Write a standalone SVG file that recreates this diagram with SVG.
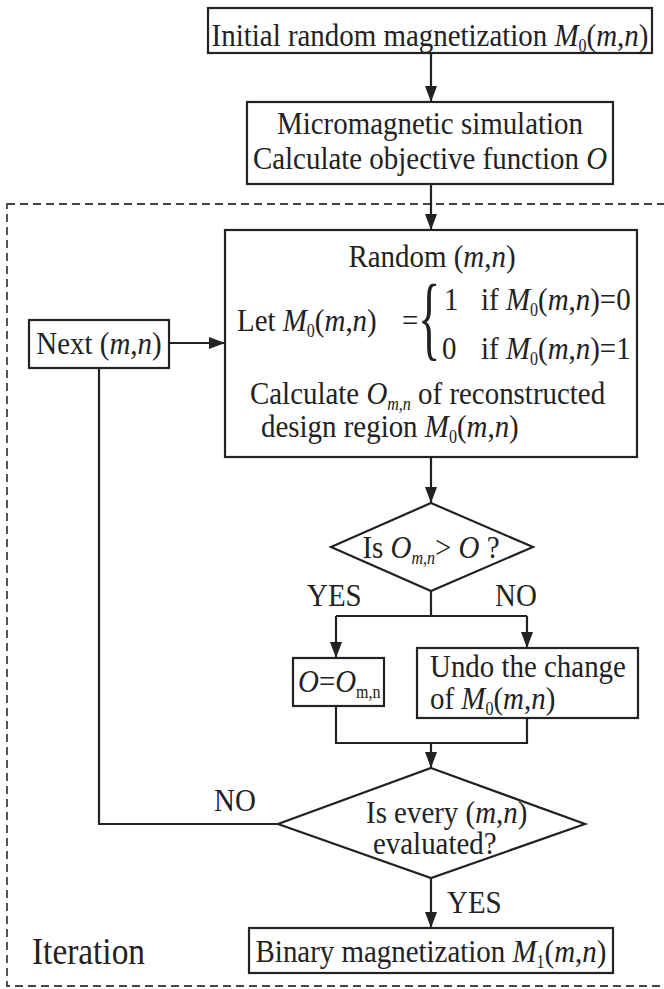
<svg xmlns="http://www.w3.org/2000/svg" width="664" height="989" viewBox="0 0 664 989">
  <style>
    .box{fill:#fff;stroke:#222;stroke-width:2.2}
    .t{font-family:"Liberation Serif","Times New Roman",serif;font-size:32.5px;fill:#222}
    .m{text-anchor:middle}
    .i{font-style:italic}
    .s{font-size:18px}
    .ln{fill:none;stroke:#222;stroke-width:2.2}
    .dash{fill:none;stroke:#444;stroke-width:1.8;stroke-dasharray:8 5}
  </style>
  <defs>
    <marker id="arrow" markerUnits="userSpaceOnUse" markerWidth="16" markerHeight="12" refX="16" refY="6" orient="auto">
      <path d="M0,0 L16,6 L0,12 z" fill="#222"/>
    </marker>
  </defs>
  <rect width="664" height="989" fill="#fff"/>

  <!-- iteration frame -->
  <g id="iteration-frame">
    <rect class="dash" x="7" y="204" width="670" height="782"/>
    <text class="t" transform="translate(32,964) scale(0.89,1)" style="font-size:37.5px">Iteration</text>
  </g>

  <!-- connectors -->
  <g id="connectors">
    <path class="ln" d="M431,53 V102" marker-end="url(#arrow)"/>
    <path class="ln" d="M431,184 V230" marker-end="url(#arrow)"/>
    <path class="ln" d="M169,343 H225" marker-end="url(#arrow)"/>
    <path class="ln" d="M431,457 V503" marker-end="url(#arrow)"/>
    <path class="ln" d="M431,591 V616 M336,616 H527"/>
    <path class="ln" d="M336,616 V658" marker-end="url(#arrow)"/>
    <path class="ln" d="M527,616 V648" marker-end="url(#arrow)"/>
    <path class="ln" d="M336,706 V743 H527 V718"/>
    <path class="ln" d="M431,743 V768" marker-end="url(#arrow)"/>
    <path class="ln" d="M278,824 H99 V368"/>
    <path class="ln" d="M431,878 V928" marker-end="url(#arrow)"/>
    <text class="t" transform="translate(307,606) scale(0.89,1)">YES</text>
    <text class="t" transform="translate(495,606) scale(0.89,1)">NO</text>
    <text class="t" transform="translate(214,811) scale(0.89,1)">NO</text>
    <text class="t" transform="translate(447,913) scale(0.89,1)">YES</text>
  </g>

  <!-- initial magnetization -->
  <g id="init">
    <rect class="box" x="208" y="8" width="444" height="45"/>
    <text class="t m" transform="translate(430,46) scale(0.89,1)">Initial random magnetization <tspan class="i">M</tspan><tspan class="s" dy="6">0</tspan><tspan dy="-6">(</tspan><tspan class="i">m</tspan>,<tspan class="i">n</tspan>)</text>
  </g>

  <!-- simulation -->
  <g id="simulate">
    <rect class="box" x="247" y="102" width="366" height="82"/>
    <text class="t m" transform="translate(430,134) scale(0.89,1)">Micromagnetic simulation</text>
    <text class="t m" transform="translate(430,169) scale(0.89,1)">Calculate objective function <tspan class="i">O</tspan></text>
  </g>

  <!-- flip a random cell -->
  <g id="flip">
    <rect class="box" x="225" y="230" width="412" height="227"/>
    <text class="t m" transform="translate(432,267) scale(0.89,1)">Random (<tspan class="i">m</tspan>,<tspan class="i">n</tspan>)</text>
    <text class="t" transform="translate(237,331) scale(0.89,1)">Let <tspan class="i">M</tspan><tspan class="s" dy="6">0</tspan><tspan dy="-6">(</tspan><tspan class="i">m</tspan>,<tspan class="i">n</tspan>)</text>
    <text class="t" transform="translate(402,331) scale(0.89,1)">=</text>
    <text class="t" transform="translate(418,349) scale(0.5,1)" style="font-size:93px">{</text>
    <text class="t" transform="translate(444,310) scale(0.89,1)">1</text>
    <text class="t" transform="translate(481,310) scale(0.89,1)">if <tspan class="i">M</tspan><tspan class="s" dy="6">0</tspan><tspan dy="-6">(</tspan><tspan class="i">m</tspan>,<tspan class="i">n</tspan>)=0</text>
    <text class="t" transform="translate(442,359) scale(0.89,1)">0</text>
    <text class="t" transform="translate(481,359) scale(0.89,1)">if <tspan class="i">M</tspan><tspan class="s" dy="6">0</tspan><tspan dy="-6">(</tspan><tspan class="i">m</tspan>,<tspan class="i">n</tspan>)=1</text>
    <text class="t" transform="translate(250,404) scale(0.89,1)">Calculate <tspan class="i">O</tspan><tspan class="s i" dy="6">m,n</tspan><tspan dy="-6"> of reconstructed</tspan></text>
    <text class="t" transform="translate(261,437) scale(0.89,1)">design region <tspan class="i">M</tspan><tspan class="s" dy="6">0</tspan><tspan dy="-6">(</tspan><tspan class="i">m</tspan>,<tspan class="i">n</tspan>)</text>
  </g>

  <!-- next cell -->
  <g id="next">
    <rect class="box" x="29" y="320" width="140" height="48"/>
    <text class="t m" transform="translate(99,354) scale(0.89,1)">Next (<tspan class="i">m</tspan>,<tspan class="i">n</tspan>)</text>
  </g>

  <!-- compare objective -->
  <g id="compare">
    <polygon class="box" points="431,503 533,547 431,591 331,547"/>
    <text class="t m" transform="translate(431,558) scale(0.89,1)">Is <tspan class="i">O</tspan><tspan class="s i" dy="6">m,n</tspan><tspan dy="-6">&gt; </tspan><tspan class="i">O</tspan> ?</text>
  </g>

  <!-- accept -->
  <g id="accept">
    <rect class="box" x="293" y="658" width="91" height="48"/>
    <text class="t" transform="translate(298,692) scale(0.89,1)"><tspan class="i">O</tspan>=<tspan class="i">O</tspan><tspan class="s" dy="6">m,n</tspan></text>
  </g>

  <!-- reject -->
  <g id="undo">
    <rect class="box" x="417" y="648" width="221" height="70"/>
    <text class="t" transform="translate(430,677) scale(0.89,1)">Undo the change</text>
    <text class="t" transform="translate(430,709) scale(0.89,1)">of <tspan class="i">M</tspan><tspan class="s" dy="6">0</tspan><tspan dy="-6">(</tspan><tspan class="i">m</tspan>,<tspan class="i">n</tspan>)</text>
  </g>

  <!-- all cells done? -->
  <g id="done">
    <polygon class="box" points="431,768 585,824 431,878 278,824"/>
    <text class="t" transform="translate(366,823) scale(0.89,1)">Is every (<tspan class="i">m</tspan>,<tspan class="i">n</tspan>)</text>
    <text class="t" transform="translate(373,854) scale(0.89,1)">evaluated?</text>
  </g>

  <!-- result -->
  <g id="result">
    <rect class="box" x="249" y="928" width="364" height="45"/>
    <text class="t m" transform="translate(431,962) scale(0.89,1)">Binary magnetization <tspan class="i">M</tspan><tspan class="s" dy="6">1</tspan><tspan dy="-6">(</tspan><tspan class="i">m</tspan>,<tspan class="i">n</tspan>)</text>
  </g>
</svg>
